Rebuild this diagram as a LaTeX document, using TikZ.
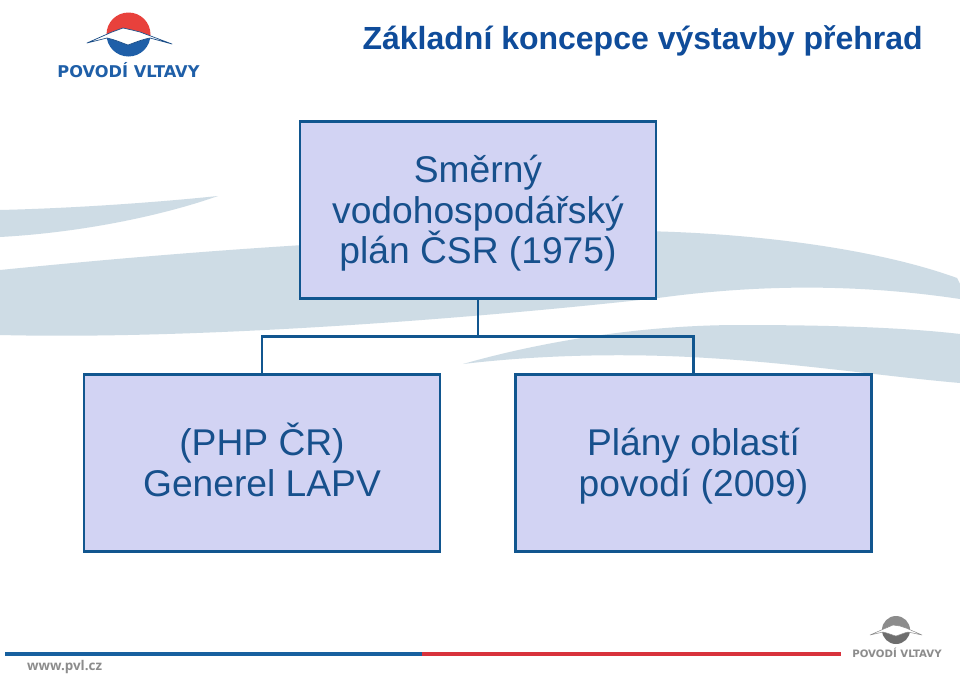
\documentclass[tikz,border=0pt]{standalone}
\usepackage{fontspec}
\setmainfont{Liberation Sans}
\newfontfamily\logofont{DejaVu Sans}
\newfontfamily\urlfont{Open Sans}
\definecolor{boxfill}{HTML}{D2D3F3}
\definecolor{boxline}{HTML}{11568F}
\definecolor{boxtext}{HTML}{17508C}
\definecolor{titleblue}{HTML}{0F4C9A}
\definecolor{swoosh}{HTML}{CEDCE5}
\definecolor{lred}{HTML}{E8413C}
\definecolor{lblue}{HTML}{1F5FA8}
\definecolor{lgrey}{HTML}{8C8C8C}
\definecolor{ldark}{HTML}{6E6E6E}
\definecolor{barblue}{HTML}{17609F}
\definecolor{barred}{HTML}{D8323C}
\tikzset{
 px/.style={x=1pt,y=-1pt},
 orgbox/.style={draw=boxline,fill=boxfill,line width=2.5pt,minimum width=356pt,minimum height=177pt,inner sep=0pt,align=center,font=\fontsize{37.2}{40.5}\selectfont,text=boxtext},
 link/.style={draw=boxline,line width=2.5pt},
 title/.style={font=\bfseries\fontsize{32}{36}\selectfont,text=titleblue,inner sep=0pt,anchor=east},
 logotext/.style={font=\logofont\bfseries,inner sep=0pt}
}
\begin{document}
\begin{tikzpicture}[px]
\useasboundingbox (0,0) rectangle (960,680);
\fill[white] (0,0) rectangle (960,680);
% background swooshes
\fill[swoosh] (0,210) .. controls (80,208) and (160,202) .. (218,196) .. controls (170,213) and (90,232) .. (0,237) -- cycle;
\fill[swoosh] (0,270) .. controls (120,258) and (220,250) .. (320,244) -- (640,231) .. controls (760,233) and (880,250) .. (957,278) -- (960,284) -- (960,299) .. controls (860,284) and (760,284) .. (658,298) .. controls (480,318) and (200,340) .. (0,335) -- cycle;
\fill[swoosh] (463,364) .. controls (540,342) and (640,325) .. (740,325) .. controls (820,325) and (900,327) .. (960,334) -- (960,383) .. controls (880,376) and (790,362) .. (690,357) .. controls (610,353) and (530,356) .. (463,364) -- cycle;
% nodes
\node[orgbox] (top) at (478,210) {\rule{0pt}{34pt}Směrný\\vodohospodářský\\plán ČSR (1975)};
\node[orgbox] (left) at (262,463) {(PHP ČR)\\Generel LAPV\rule[-7pt]{0pt}{1pt}};
\node[orgbox] (right) at (693.5,463) {\rule{0pt}{34pt}Plány oblastí\\povodí (2009)};
\coordinate (bus) at (478,336.5);
\draw[link] (top.south) -- (bus);
\draw[link] (left.north) |- (bus) -| (right.north);
\node[title] (ttl) at (923,41) {Základní koncepce výstavby přehrad};
% logo
\begin{scope}
\clip (128.5,34.5) circle (22);
\fill[lred] (100,10) rectangle (160,40);
\fill[lblue] (100,36) rectangle (160,60);
\end{scope}
\fill[white,draw=lblue!80!black,line width=.7pt,line join=round] (87,43) -- (112,32) -- (123,28) -- (132,30) -- (140,32) -- (172,44) -- (150,38) .. controls (140,40) and (134,43) .. (128,45) .. controls (122,43) and (116,40) .. (107,38) -- cycle;
\node[logotext,text=lblue,font=\logofont\bfseries\fontsize{16.2}{17}\selectfont] (logo) at (128.5,70.5) {POVODÍ VLTAVY};
% small logo
\begin{scope}
\clip (896,630) circle (14);
\fill[lgrey] (880,615) rectangle (912,632);
\fill[ldark] (880,632) rectangle (912,645);
\end{scope}
\fill[white,draw=lgrey,line width=.5pt,line join=round] (870,635) -- (886,628) -- (893,625) -- (900,626) -- (906,628) -- (922,635) -- (908,632) .. controls (903,633) and (900,635) .. (896,636) .. controls (892,635) and (888,633) .. (883,632) -- cycle;
\node[logotext,text=lgrey,font=\logofont\bfseries\fontsize{10.2}{11}\selectfont] (logosmall) at (897,653) {POVODÍ VLTAVY};
% footer
\coordinate (b1) at (5,654); \coordinate (b2) at (422,654); \coordinate (b3) at (841,654);
\draw[barblue,line width=3.5pt] (b1) -- (b2);
\draw[barred,line width=3.5pt] (b2) -- (b3);
\node[logotext,text=lgrey,font=\urlfont\bfseries\fontsize{13.4}{14}\selectfont,anchor=west] (url) at (27,667) {www.pvl.cz};
\end{tikzpicture}
\end{document}
